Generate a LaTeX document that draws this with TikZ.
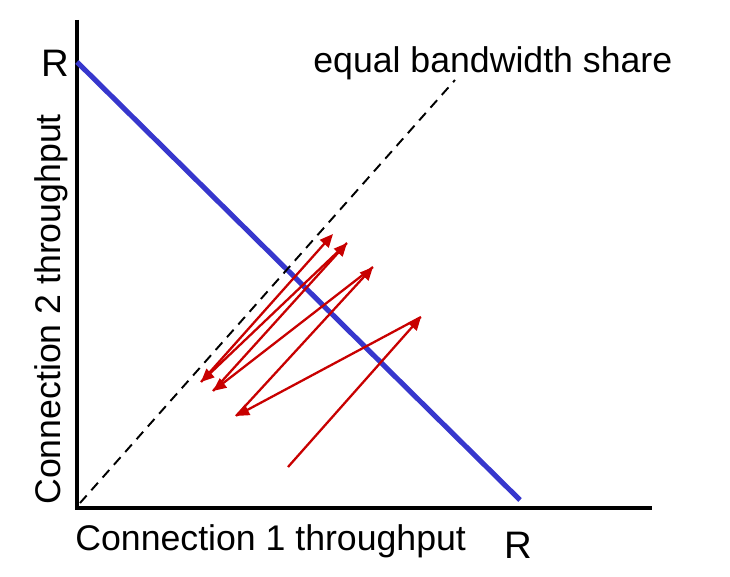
\documentclass[tikz,border=0pt]{standalone}
\usepackage{fontspec}
\setmainfont{Liberation Sans}
\usetikzlibrary{arrows.meta, positioning}

\definecolor{capblue}{RGB}{55,55,205}
\definecolor{flowred}{RGB}{200,0,0}
\tikzset{
  axis/.style={line width=2.3pt, black},
  capacity/.style={line width=2.9pt, capblue},
  fairline/.style={line width=1.1pt, dash pattern=on 5.7pt off 4pt},
  flow/.style={line width=1.3pt, flowred, -{Triangle[length=7.5pt, width=6.5pt]}},
  lab/.style={font=\fontsize{20.3}{24}\selectfont, inner sep=0pt},
  rlab/.style={font=\fontsize{21.8}{26}\selectfont, inner sep=0pt}
}

\begin{document}
\begin{tikzpicture}[x=0.02cm, y=-0.02cm]
  \useasboundingbox (0,0) rectangle (730,577);
  % Axes
  \coordinate (origin) at (77,508);
  \coordinate (ytop) at (77,20);
  \coordinate (xend) at (652,508);
  \draw[axis] (ytop) -- (origin) -- (xend);
  % Capacity line R -- R and equal share line
  \coordinate (rtop) at (77,62);
  \coordinate (rright) at (520,500);
  \draw[capacity] (rtop) -- (rright);
  \coordinate (fair0) at (80,503);
  \coordinate (fair1) at (455,80);
  \draw[fairline] (fair0) -- (fair1);
  % Labels
  \node[lab, anchor=base west] (share) at (313,73) {equal bandwidth share};
  \node[rlab, anchor=base west] (rleft) at (41,77) {R};
  \node[rlab, anchor=base west] (rbottom) at (504,558) {R};
  \node[lab, anchor=base west] (xlab) at (75,550) {Connection 1 throughput};
  \node[lab, anchor=base west, rotate=90] (ylab) at (60,505) {Connection 2 throughput};
  % AIMD trajectory
  \coordinate (p0) at (288,467);
  \coordinate (p1) at (421,317);
  \coordinate (p2) at (236,416);
  \coordinate (p3) at (373,267);
  \coordinate (p4) at (213,391);
  \coordinate (p5) at (347,243);
  \coordinate (p6) at (201,382);
  \coordinate (p7) at (333,234);
  \foreach \a/\b in {p0/p1, p1/p2, p2/p3, p3/p4, p4/p5, p5/p6, p6/p7}
    {\draw[flow] (\a) -- (\b);}
\end{tikzpicture}
\end{document}
